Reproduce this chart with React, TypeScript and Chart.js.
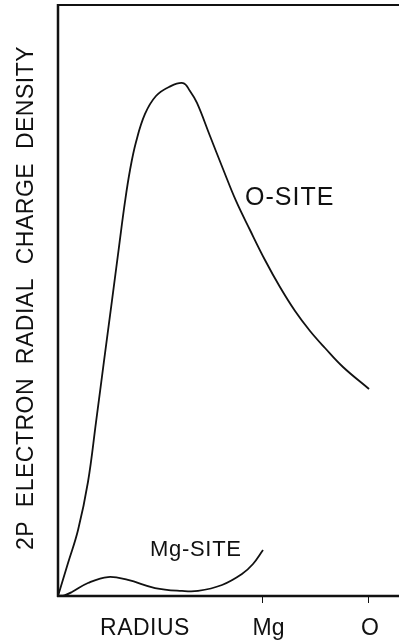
import React, { useEffect, useRef } from "react";
import { Chart, registerables } from "chart.js";

Chart.register(...registerables);

// Radius (arbitrary units) and density (arbitrary units)
const oSiteRadius = [0, 0.097, 0.194, 0.29, 0.368, 0.445, 0.523, 0.59, 0.648, 0.697, 0.755, 0.842, 0.948, 1.074, 1.21, 1.277, 1.345, 1.471, 1.597, 1.723, 1.858, 2.003, 2.148, 2.294, 2.439, 2.584, 2.758, 3.01];
const oSiteDensity = [0, 5.58, 11.17, 19.29, 29.44, 39.76, 50.08, 59.05, 66.67, 72.08, 76.82, 81.56, 84.6, 86.13, 86.8, 85.45, 83.42, 77.83, 72.25, 66.84, 61.93, 56.85, 52.28, 48.22, 44.84, 41.96, 38.75, 35.03];

const mgSiteRadius = [0, 0.068, 0.135, 0.29, 0.484, 0.677, 0.939, 1.2, 1.355, 1.587, 1.78, 1.887, 1.984];
const mgSiteDensity = [0, 0.17, 0.68, 2.2, 3.21, 2.71, 1.35, 0.85, 0.85, 1.86, 3.72, 5.41, 7.78];

const tickValues = [1.97, 3.0];
const tickLabels = ["Mg", "O"];
const xTitle = "RADIUS";
const yTitle = "2P  ELECTRON  RADIAL  CHARGE  DENSITY";
const oSiteLabel = "O-SITE";
const mgSiteLabel = "Mg-SITE";

const FONT = '"Liberation Sans", Arial, sans-serif';

export default function App() {
  const ref = useRef<HTMLCanvasElement | null>(null);

  useEffect(() => {
    const canvas = ref.current;
    if (!canvas) return;
    document.body.style.margin = "0";

    const framePlugin = {
      id: "frame",
      afterDraw(chart: any) {
        const ctx = chart.ctx as CanvasRenderingContext2D;
        const { left, right, top, bottom } = chart.chartArea;
        const xs = chart.scales.x;
        ctx.save();
        ctx.strokeStyle = "#111";
        ctx.lineCap = "butt";
        // left axis
        ctx.lineWidth = 2.5;
        ctx.beginPath();
        ctx.moveTo(left, top - 1);
        ctx.lineTo(left, bottom + 1);
        ctx.stroke();
        // bottom axis
        ctx.lineWidth = 2.5;
        ctx.beginPath();
        ctx.moveTo(left - 1, bottom);
        ctx.lineTo(right, bottom);
        ctx.stroke();
        // top border
        ctx.lineWidth = 2;
        ctx.beginPath();
        ctx.moveTo(left - 1, top);
        ctx.lineTo(right, top);
        ctx.stroke();
        // ticks
        ctx.lineWidth = 1;
        tickValues.forEach((v) => {
          const px = Math.round(xs.getPixelForValue(v)) + 0.5;
          ctx.beginPath();
          ctx.moveTo(px, bottom + 1);
          ctx.lineTo(px, bottom + 7);
          ctx.stroke();
        });

        ctx.fillStyle = "#111";
        ctx.textBaseline = "alphabetic";
        // tick labels
        ctx.font = `23px ${FONT}`;
        ctx.textAlign = "center";
        tickLabels.forEach((t, i) => {
          const px = xs.getPixelForValue(tickValues[i]);
          ctx.fillText(t, px + (i === 0 ? 7 : 2), bottom + 39);
        });
        // x title
        (ctx as any).letterSpacing = "0.5px";
        ctx.fillText(xTitle, 145, bottom + 39);

        // curve labels
        ctx.textAlign = "left";
        (ctx as any).letterSpacing = "1px";
        ctx.font = `25px ${FONT}`;
        ctx.fillText(oSiteLabel, 245, 205);
        (ctx as any).letterSpacing = "0.7px";
        ctx.font = `22px ${FONT}`;
        ctx.fillText(mgSiteLabel, 150, 556);

        // y title
        ctx.translate(33, 298);
        ctx.rotate(-Math.PI / 2);
        ctx.textAlign = "center";
        (ctx as any).letterSpacing = "0.5px";
        ctx.font = `23px ${FONT}`;
        ctx.fillText(yTitle, 0, 0);
        ctx.restore();
      },
    };

    const chart = new Chart(canvas, {
      type: "line",
      data: {
        datasets: [
          {
            label: oSiteLabel,
            data: oSiteRadius.map((x, i) => ({ x, y: oSiteDensity[i] })),
            borderColor: "#111",
            borderWidth: 1.8,
            pointRadius: 0,
            tension: 0.4,
            fill: false,
          },
          {
            label: mgSiteLabel,
            data: mgSiteRadius.map((x, i) => ({ x, y: mgSiteDensity[i] })),
            borderColor: "#111",
            borderWidth: 1.8,
            pointRadius: 0,
            tension: 0.4,
            fill: false,
          },
        ],
      },
      options: {
        responsive: false,
        animation: false,
        devicePixelRatio: 1,
        layout: { padding: { left: 58, right: 0, top: 5, bottom: 44 } },
        plugins: { legend: { display: false }, tooltip: { enabled: false } },
        scales: {
          x: { type: "linear", min: 0, max: 3.3, display: false },
          y: { type: "linear", min: 0, max: 100, display: false },
        },
      },
      plugins: [framePlugin],
    });
    return () => chart.destroy();
  }, []);

  return (
    <div style={{ position: "fixed", left: 0, top: 0, width: 399, height: 640, background: "#fff" }}>
      <canvas ref={ref} width={399} height={640} />
    </div>
  );
}
